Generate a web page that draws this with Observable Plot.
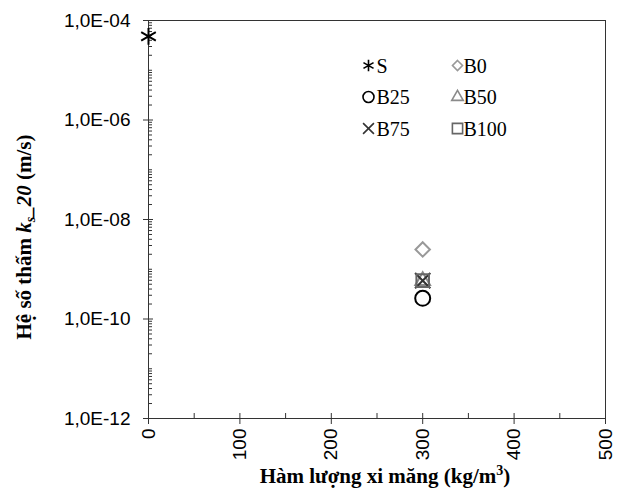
<!DOCTYPE html>
<html><head><meta charset="utf-8">
<script src="https://cdn.jsdelivr.net/npm/d3@7"></script>
<script src="https://cdn.jsdelivr.net/npm/@observablehq/plot@0.6"></script>
<style>body{margin:0;background:#fff} #chart svg{display:block}</style>
</head><body><div id="chart"></div>
<script>
// ---- data ----
const series = ["S", "B0", "B25", "B50", "B75", "B100"];
const cement = [0, 300, 300, 300, 300, 300];          // kg/m3
const ks20 = [4.8e-5, 2.5e-9, 2.6e-10, 5.9e-10, 5.9e-10, 5.9e-10]; // m/s
const yMajorTicks = [1e-12, 1e-10, 1e-8, 1e-6, 1e-4];
const xMajorTicks = [0, 100, 200, 300, 400, 500];
const xMinorTicks = [50, 150, 250, 350, 450];
const yTitle = ["Hệ số thấm ", "k", "s", "_20", " (m/s)"];
const xTitle = ["Hàm lượng xi măng (kg/m", "3", ")"];

// ---- styles ----
const style = {
  S:    {symbol: "asterisk",  stroke: "#000",    r: 8,   lr: 5.5},
  B0:   {symbol: "diamond2",  stroke: "#999",    r: 6.5, lr: 4.5},
  B25:  {symbol: "circle",    stroke: "#000",    r: 7.5, lr: 5.5},
  B50:  {symbol: "triangle2", stroke: "#8a8a8a", r: 7,   lr: 5.5},
  B75:  {symbol: "times",     stroke: "#333",    r: 7,   lr: 5},
  B100: {symbol: "square2",   stroke: "#666",    r: 8,   lr: 6.5}
};
const legendPos = {S:[0,0], B0:[1,0], B25:[0,1], B50:[1,1], B75:[0,2], B100:[1,2]};

const rows = series.map((s, i) => ({series: s, cement: cement[i], ks: ks20[i]}));
const yMinorTicks = [];
for (let e = -12; e < -4; e++) for (let m = 1; m <= 9; m++) {
  const v = m * Math.pow(10, e);
  if (m === 1 && e % 2 === 0) continue;
  yMinorTicks.push(v);
}
const fmtY = d => "1,0E-" + String(Math.round(-Math.log10(d))).padStart(2, "0");
const serif = "'Liberation Serif', 'Times New Roman', serif";

const dataMarks = rows.map(d => Plot.dot([d], {
  x: "cement", y: "ks", symbol: style[d.series].symbol, r: style[d.series].r,
  stroke: style[d.series].stroke, strokeWidth: 2, fill: "none"
}));
const legendMarks = series.flatMap(s => {
  const [c, r] = legendPos[s];
  const dx = c === 0 ? 220 : 309, dy = 45 + r * 31.5;
  const tx = c === 0 ? 228 : 315;
  return [
    Plot.dot([s], {frameAnchor: "top-left", dx, dy, symbol: style[s].symbol, r: style[s].lr,
      stroke: style[s].stroke, strokeWidth: 1.6, fill: "none"}),
    Plot.text([s], {frameAnchor: "top-left", dx: tx, dy: dy + 1, text: d => d, textAnchor: "start",
      lineAnchor: "middle", fontSize: 20, fontFamily: serif, fill: "#000"})
  ];
});

const plot = Plot.plot({
  width: 621, height: 498,
  marginLeft: 148, marginRight: 16, marginTop: 20, marginBottom: 80,
  x: {domain: [0, 500]},
  y: {type: "log", domain: [1e-12, 1e-4]},
  style: {fontFamily: "'Liberation Sans', Arial, sans-serif", fontSize: "18px", color: "#000", background: "#fff", overflow: "visible"},
  marks: [
    Plot.axisY({ticks: yMajorTicks, tickSize: 5, tickPadding: 13, tickFormat: fmtY, fontSize: 19, label: null, stroke: "#333"}),
    Plot.axisY({ticks: yMajorTicks, tickSize: -5, tickFormat: () => "", label: null, stroke: "#333"}),
    Plot.axisY({ticks: yMinorTicks, tickSize: -4, tickFormat: () => "", label: null, stroke: "#333"}),
    Plot.axisX({ticks: xMajorTicks, tickSize: 6, tickPadding: 4, tickRotate: -90, fontSize: 19, label: null, stroke: "#333"}),
    Plot.axisX({ticks: xMajorTicks, tickSize: -5, tickFormat: () => "", label: null, stroke: "#333"}),
    Plot.axisX({ticks: xMinorTicks, tickSize: -5, tickFormat: () => "", label: null, stroke: "#333"}),
    Plot.frame({stroke: "#333"}),
    ...dataMarks,
    ...legendMarks
  ]
});

const svg = d3.select(plot);
// y title
const yt = svg.append("text")
  .attr("transform", "translate(31,237) rotate(-90)")
  .attr("text-anchor", "middle")
  .style("font-family", serif).style("font-weight", "bold").style("font-size", "21px").attr("fill", "#000");
yt.append("tspan").text(yTitle[0]);
yt.append("tspan").style("font-style", "italic").text(yTitle[1]);
yt.append("tspan").style("font-style", "italic").style("font-size", "14px").attr("dy", 4).text(yTitle[2]);
yt.append("tspan").style("font-style", "italic").attr("dy", -4).text(yTitle[3]);
yt.append("tspan").text(yTitle[4]);
// x title
const xt = svg.append("text")
  .attr("x", 385).attr("y", 483)
  .attr("text-anchor", "middle")
  .style("font-family", serif).style("font-weight", "bold").style("font-size", "21px").attr("fill", "#000");
xt.append("tspan").text(xTitle[0]);
xt.append("tspan").style("font-size", "14px").attr("dy", -8).text(xTitle[1]);
xt.append("tspan").attr("dy", 8).text(xTitle[2]);

document.getElementById("chart").appendChild(plot);
</script>
</body></html>
